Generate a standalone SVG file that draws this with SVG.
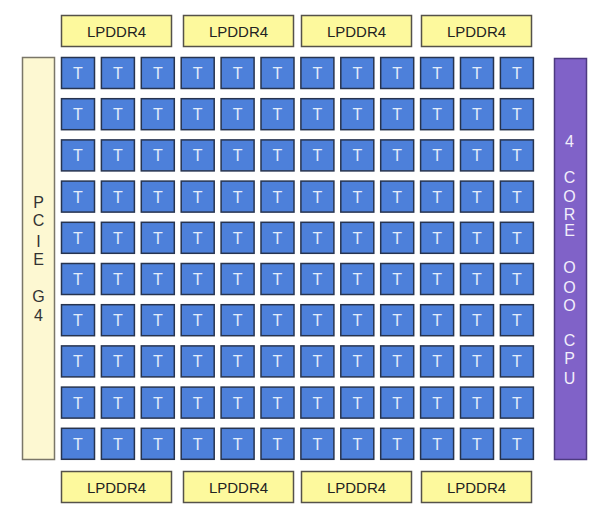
<svg xmlns="http://www.w3.org/2000/svg" width="600" height="515" viewBox="0 0 600 515">
<style>
.mem{fill:#fdf99d;stroke:#55524a;stroke-width:1.5}
.mt{font-family:"Liberation Sans",Arial,sans-serif;font-size:15px;fill:#222;text-anchor:middle}
.tile{fill:#4d80da;stroke:#27344f;stroke-width:1.5}
.tt{font-family:"Liberation Sans",Arial,sans-serif;font-size:16px;fill:#e2ecfa;text-anchor:middle}
.pcie{fill:#fdf8d2;stroke:#7a7668;stroke-width:1.5}
.pt{font-family:"Liberation Sans",Arial,sans-serif;font-size:16px;fill:#333;text-anchor:middle}
.cpu{fill:#8062c8;stroke:#4d3a80;stroke-width:1.5}
.ct{font-family:"Liberation Sans",Arial,sans-serif;font-size:16px;fill:#f2eefb;text-anchor:middle}
</style>
<rect width="600" height="515" fill="#ffffff"/>
<g id="mem-top">
<g id="lpddr4-t1"><rect class="mem" x="61.5" y="15.5" width="110" height="31"/><text class="mt" x="116.5" y="36.5">LPDDR4</text></g>
<g id="lpddr4-t2"><rect class="mem" x="183.5" y="15.5" width="110" height="31"/><text class="mt" x="238.5" y="36.5">LPDDR4</text></g>
<g id="lpddr4-t3"><rect class="mem" x="301.5" y="15.5" width="110" height="31"/><text class="mt" x="356.5" y="36.5">LPDDR4</text></g>
<g id="lpddr4-t4"><rect class="mem" x="421.5" y="15.5" width="110" height="31"/><text class="mt" x="476.5" y="36.5">LPDDR4</text></g>
</g>
<g id="mem-bottom">
<g id="lpddr4-b1"><rect class="mem" x="61.5" y="471.5" width="110" height="31"/><text class="mt" x="116.5" y="492.5">LPDDR4</text></g>
<g id="lpddr4-b2"><rect class="mem" x="183.5" y="471.5" width="110" height="31"/><text class="mt" x="238.5" y="492.5">LPDDR4</text></g>
<g id="lpddr4-b3"><rect class="mem" x="301.5" y="471.5" width="110" height="31"/><text class="mt" x="356.5" y="492.5">LPDDR4</text></g>
<g id="lpddr4-b4"><rect class="mem" x="421.5" y="471.5" width="110" height="31"/><text class="mt" x="476.5" y="492.5">LPDDR4</text></g>
</g>
<g id="pcie">
<rect class="pcie" x="22.5" y="57.5" width="32" height="402"/>
<text class="pt" x="38.5" y="208">P</text>
<text class="pt" x="38.5" y="226">C</text>
<text class="pt" x="38.5" y="247">I</text>
<text class="pt" x="38.5" y="265">E</text>
<text class="pt" x="38.5" y="302">G</text>
<text class="pt" x="38.5" y="321">4</text>
</g>
<g id="cpu">
<rect class="cpu" x="554.5" y="58.5" width="32" height="401"/>
<text class="ct" x="569.5" y="147">4</text>
<text class="ct" x="569.5" y="183">C</text>
<text class="ct" x="569.5" y="202">O</text>
<text class="ct" x="569.5" y="220">R</text>
<text class="ct" x="569.5" y="236">E</text>
<text class="ct" x="569.5" y="273">O</text>
<text class="ct" x="569.5" y="293">O</text>
<text class="ct" x="569.5" y="311">O</text>
<text class="ct" x="569.5" y="346">C</text>
<text class="ct" x="569.5" y="364">P</text>
<text class="ct" x="569.5" y="384">U</text>
</g>
<defs>
<g id="tileT"><rect class="tile" x="0" y="0" width="33" height="31"/><text class="tt" x="16.5" y="21.5">T</text></g>
<g id="tileRow">
<use href="#tileT" x="0"/><use href="#tileT" x="39.9"/><use href="#tileT" x="79.8"/><use href="#tileT" x="119.7"/>
<use href="#tileT" x="159.6"/><use href="#tileT" x="199.5"/><use href="#tileT" x="239.4"/><use href="#tileT" x="279.3"/>
<use href="#tileT" x="319.2"/><use href="#tileT" x="359.1"/><use href="#tileT" x="399"/><use href="#tileT" x="438.9"/>
</g>
</defs>
<g id="tiles" transform="translate(61.5,57.5)">
<use id="row1" href="#tileRow" y="0"/>
<use id="row2" href="#tileRow" y="41.2"/>
<use id="row3" href="#tileRow" y="82.4"/>
<use id="row4" href="#tileRow" y="123.6"/>
<use id="row5" href="#tileRow" y="164.8"/>
<use id="row6" href="#tileRow" y="206"/>
<use id="row7" href="#tileRow" y="247.2"/>
<use id="row8" href="#tileRow" y="288.4"/>
<use id="row9" href="#tileRow" y="329.6"/>
<use id="row10" href="#tileRow" y="370.8"/>
</g>
<g id="connectors"/>
</svg>
